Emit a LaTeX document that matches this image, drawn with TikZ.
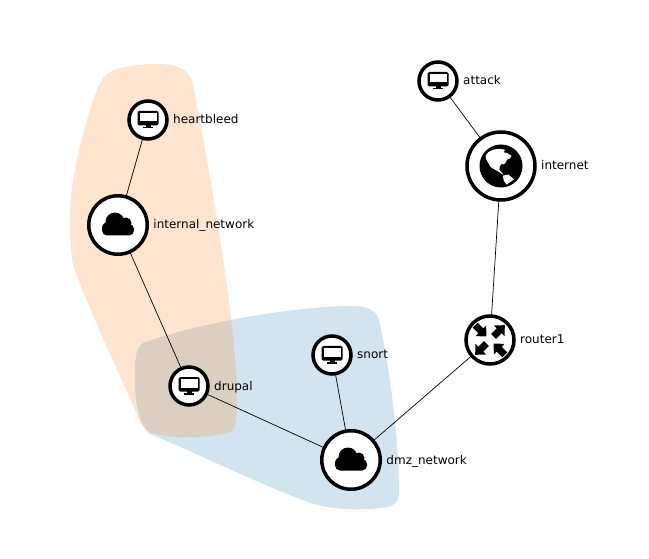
\documentclass[tikz,border=0pt]{standalone}
\usepackage{fontspec}
\setmainfont{DejaVu Sans}
\usetikzlibrary{positioning}
\definecolor{hullOrange}{RGB}{255,127,14}
\definecolor{hullBlue}{RGB}{31,119,180}
\tikzset{
  hostnode/.style={draw,circle,fill=white,line width=3.5pt,inner sep=0pt,outer sep=0pt,minimum size=38pt},
  netnode/.style={hostnode,minimum size=58.5pt},
  routernode/.style={hostnode,minimum size=48pt},
  inetnode/.style={hostnode,minimum size=68pt},
  namelabel/.style={inner sep=0pt,text height=9pt,text depth=1pt,font=\fontsize{12pt}{14pt}\selectfont},
  link/.style={draw,line width=0.7pt},
  monitoricon/.pic={
    \fill[rounded corners=1.5pt] (-10.5,-9) rectangle (10.5,5.5);
    \fill[white] (-8.5,-7) rectangle (8.5,1.5);
    \fill (-2.5,5) rectangle (2.5,8);
    \fill (-5,7) rectangle (5,8.5);
  },
  cloudicon/.pic={
    \fill[rounded corners=5pt] (-16,-1) rectangle (16,10.5);
    \fill (-3,-3) circle (9.5);
    \fill (8,-2) circle (5.5);
    \fill (-10,3) circle (6);
  },
  globeicon/.pic={
    \fill (0,0) circle (21.5);
    \fill[white,draw=white,line width=0.8pt] (-15,-10) -- (-12.7,-13.3) -- (-7.7,-16) -- (-2,-16.7) -- (3.3,-16) -- (2.3,-13.3) -- (5.7,-12.7)
      -- (10,-10) -- (8.3,-7.7) -- (5.7,-6.7) -- (4,-3.3) -- (2.3,-2) -- (0.7,-2.7) -- (-1.7,0) -- (-2,4) -- (0.7,7.3)
      -- (-3.3,4.7) -- (-7.7,2.3) -- (-10,0.7) -- (-12,-2.7) -- (-14.3,-6.7) -- cycle;
    \fill[white,draw=white,line width=0.8pt] (2.3,10) -- (7.3,9) -- (12.3,13.3) -- (9,15.7) -- (5.7,18) -- (3.3,14.7) -- cycle;
  },
  routericon/.pic={
    \foreach \ang/\rot in {45/0,135/180,225/0,315/180}{
      \begin{scope}[rotate=\ang,xshift=12pt]
        \ifnum\rot=0
          \fill (-7,-3.5) -- (1,-3.5) -- (1,-7.5) -- (9,0) -- (1,7.5) -- (1,3.5) -- (-7,3.5) -- cycle;
        \else
          \fill (9,-3.5) -- (1,-3.5) -- (1,-7.5) -- (-7,0) -- (1,7.5) -- (1,3.5) -- (9,3.5) -- cycle;
        \fi
      \end{scope}
    }
  },
}

\begin{document}
\begin{tikzpicture}[x=1pt,y=-1pt]
  \useasboundingbox (0,0) rectangle (649,559);
  % hulls
  \fill[hullBlue,fill opacity=0.2] (143,343) .. controls (200,322) and (300,306) .. (350,306)
    .. controls (368,306) and (376,310) .. (379,320) .. controls (390,370) and (399,440) .. (399,490)
    .. controls (399,503) and (394,507) .. (380,508) .. controls (355,511) and (325,509) .. (305,501)
    .. controls (250,480) and (190,450) .. (150,434) .. controls (138,425) and (135,400) .. (135,380)
    .. controls (135,360) and (135,348) .. (143,343) -- cycle;
  \fill[hullOrange,fill opacity=0.2] (103,78) .. controls (112,66) and (140,64) .. (160,64)
    .. controls (180,65) and (190,70) .. (193,85) .. controls (210,170) and (237,330) .. (237,395)
    .. controls (237,420) and (236,429) .. (230,432) .. controls (210,438) and (170,440) .. (150,432)
    .. controls (142,428) and (138,418) .. (133,405) .. controls (115,365) and (85,300) .. (73,265)
    .. controls (69,240) and (69,205) .. (73,180) .. controls (78,150) and (92,95) .. (103,78) -- cycle;
  % machines
  \node[hostnode] (heartbleed) at (148,120) {};
  \node[netnode] (internal) at (118,225) {};
  \node[hostnode] (drupal) at (189,386) {};
  \node[hostnode] (snort) at (332,355) {};
  \node[netnode] (dmz) at (351,460) {};
  \node[routernode] (router) at (490,340) {};
  \node[inetnode] (internet) at (501,166) {};
  \node[hostnode] (attack) at (438,81) {};
  % links
  \draw[link] (heartbleed)--(internal);
  \draw[link] (internal)--(drupal);
  \draw[link] (drupal)--(dmz);
  \draw[link] (snort)--(dmz);
  \draw[link] (dmz)--(router);
  \draw[link] (router)--(internet);
  \draw[link] (internet)--(attack);
  % icons
  \foreach \host in {heartbleed,drupal,snort,attack}{
    \pic at (\host) {monitoricon};
  }
  \pic at (internal) {cloudicon};
  \pic at (dmz) {cloudicon};
  \pic at (router) {routericon};
  \pic at (internet) {globeicon};
  % names
  \node[namelabel,right=6pt of heartbleed] (heartbleedname) {heartbleed};
  \node[namelabel,right=6pt of internal] (internalname) {internal\_network};
  \node[namelabel,right=6pt of drupal] (drupalname) {drupal};
  \node[namelabel,right=6pt of snort] (snortname) {snort};
  \node[namelabel,right=6pt of dmz] (dmzname) {dmz\_network};
  \node[namelabel,right=6pt of router] (routername) {router1};
  \node[namelabel,right=6pt of internet] (internetname) {internet};
  \node[namelabel,right=6pt of attack] (attackname) {attack};
\end{tikzpicture}
\end{document}
